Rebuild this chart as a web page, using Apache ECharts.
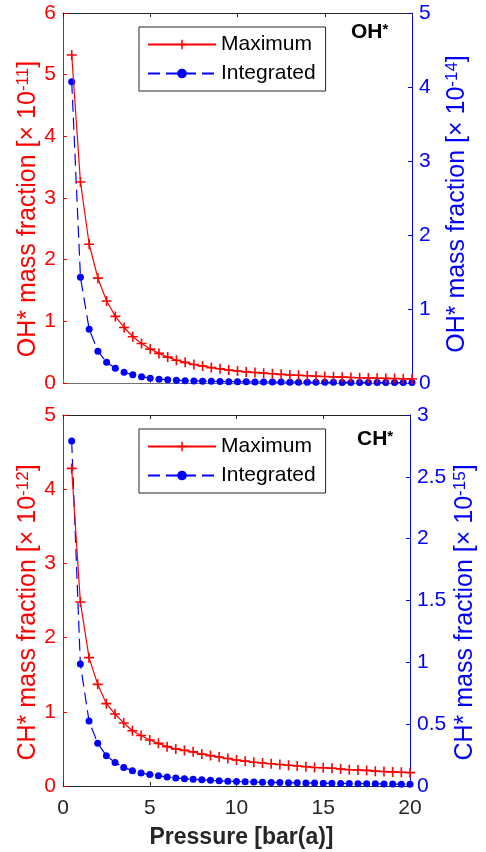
<!DOCTYPE html>
<html>
<head>
<meta charset="utf-8">
<script src="https://cdn.jsdelivr.net/npm/echarts@6/dist/echarts.min.js"></script>
<style>
  html, body { margin: 0; padding: 0; background: #fff; }
  #chart { width: 486px; height: 852px; }
</style>
</head>
<body>
<div id="chart"></div>
<script>
// pressure in bar(a)
const pressure = [0.5, 1, 1.5, 2, 2.5, 3, 3.5, 4, 4.5, 5, 5.5, 6, 6.5, 7, 7.5, 8, 8.5, 9, 9.5, 10,
  10.5, 11, 11.5, 12, 12.5, 13, 13.5, 14, 14.5, 15, 15.5, 16, 16.5, 17, 17.5, 18, 18.5, 19, 19.5, 20]

// OH* maximum (x1e-11) and integrated (x1e-14)
const ohMax = [5.32, 3.26, 2.25, 1.70, 1.33, 1.08, 0.90, 0.75, 0.64, 0.55, 0.48, 0.42, 0.37, 0.335, 0.30, 0.275, 0.25, 0.23, 0.21, 0.195,
  0.18, 0.17, 0.16, 0.15, 0.14, 0.13, 0.125, 0.118, 0.11, 0.105, 0.10, 0.095, 0.09, 0.086, 0.082, 0.078, 0.075, 0.072, 0.069, 0.066]
const ohInt = [4.07, 1.43, 0.726, 0.43, 0.28, 0.20, 0.145, 0.11, 0.085, 0.065, 0.052, 0.043, 0.037, 0.032, 0.028, 0.025, 0.022, 0.02, 0.018, 0.017,
  0.016, 0.015, 0.014, 0.013, 0.012, 0.011, 0.011, 0.01, 0.0095, 0.009, 0.0085, 0.008, 0.0078, 0.0075, 0.0072, 0.007, 0.0068, 0.0065, 0.0062, 0.006]

// CH* maximum (x1e-12) and integrated (x1e-15)
const chMax = [4.28, 2.48, 1.73, 1.37, 1.11, 0.97, 0.85, 0.745, 0.68, 0.62, 0.575, 0.53, 0.50, 0.48, 0.46, 0.43, 0.41, 0.39, 0.37, 0.35,
  0.335, 0.32, 0.31, 0.30, 0.29, 0.28, 0.27, 0.26, 0.25, 0.245, 0.24, 0.23, 0.22, 0.215, 0.21, 0.20, 0.195, 0.19, 0.185, 0.18]
const chInt = [2.79, 0.986, 0.525, 0.345, 0.245, 0.19, 0.15, 0.124, 0.105, 0.092, 0.083, 0.073, 0.065, 0.059, 0.054, 0.05, 0.046, 0.042, 0.039, 0.036,
  0.034, 0.032, 0.03, 0.029, 0.028, 0.027, 0.026, 0.025, 0.024, 0.023, 0.022, 0.021, 0.02, 0.019, 0.018, 0.018, 0.017, 0.016, 0.015, 0.014]

const FONT = 'Liberation Sans'
const RED = '#ff0000'
const BLUE = '#0000ff'
const BOX = '#262626'
const plus = 'path://M-0.8,-5 L0.8,-5 L0.8,-0.8 L5,-0.8 L5,0.8 L0.8,0.8 L0.8,5 L-0.8,5 L-0.8,0.8 L-5,0.8 L-5,-0.8 L-0.8,-0.8 Z'

function pairs(ys) {
    return pressure.map((p, i) => [p, ys[i]])
}

function xAx(grid, pos, showLabel, color) {
    return {
        type: 'value', gridIndex: grid, position: pos, min: 0, max: 20, interval: 5,
        axisLine: { show: true, onZero: false, lineStyle: { color: color, width: 1 } },
        axisTick: { show: true, inside: true, length: 4, lineStyle: { color: color } },
        axisLabel: { show: showLabel, color: BOX, fontSize: 21, fontFamily: FONT, margin: 12 },
        splitLine: { show: false }
    }
}

function yAx(grid, pos, max, interval, color, name, gap, shift) {
    return {
        type: 'value', gridIndex: grid, position: pos, min: 0, max: max, interval: interval,
        name: name, nameLocation: 'middle', nameGap: gap, nameRotate: 90, nameMoveOverlap: false,
        nameTextStyle: {
            color: color, fontSize: 25, fontFamily: FONT, padding: [0, shift, 0, 0],
            rich: { sup: { color: color, fontSize: 17, fontFamily: FONT, verticalAlign: 'top', padding: [0, 0, 10, 0] } }
        },
        axisLine: { show: true, onZero: false, lineStyle: { color: color, width: 1 } },
        axisTick: { show: true, inside: true, length: 4, lineStyle: { color: color } },
        axisLabel: { color: color, fontSize: 21, fontFamily: FONT, margin: 7 },
        splitLine: { show: false }
    }
}

function maxSeries(x, y, data) {
    return {
        name: 'Maximum', type: 'line', xAxisIndex: x, yAxisIndex: y, data: pairs(data),
        symbol: plus, symbolSize: 10, showSymbol: true,
        lineStyle: { color: RED, width: 1.2 }, itemStyle: { color: RED }, z: 3
    }
}

function intSeries(x, y, data) {
    return {
        name: 'Integrated', type: 'line', xAxisIndex: x, yAxisIndex: y, data: pairs(data),
        symbol: 'circle', symbolSize: 7, showSymbol: true,
        lineStyle: { color: BLUE, width: 1.2, type: [12, 6] }, itemStyle: { color: BLUE }, z: 2
    }
}

function legendAt(top) {
    return {
        orient: 'vertical', left: 139, top: top,
        data: ['Maximum', 'Integrated'],
        backgroundColor: '#fff', borderColor: BOX, borderWidth: 1, borderRadius: 0,
        padding: [7, 10, 7, 8], itemGap: 8, itemWidth: 68, itemHeight: 12,
        textStyle: { color: '#000', fontSize: 21, fontFamily: FONT }
    }
}

let chart = echarts.init(document.querySelector('#chart'))
let option = {
    backgroundColor: '#fff',
    animation: false,
    grid: [
        { left: 63, top: 13, width: 349, height: 370 },
        { left: 63, top: 415, width: 349, height: 371 }
    ],
    legend: [legendAt(27), legendAt(429)],
    xAxis: [
        xAx(0, 'bottom', false, '#707070'),
        xAx(0, 'top', false, BOX),
        Object.assign(xAx(1, 'bottom', true, BOX), {
            name: 'Pressure [bar(a)]', nameLocation: 'middle', nameGap: 40, nameMoveOverlap: false,
            nameTextStyle: { color: BOX, fontSize: 23, fontWeight: 'bold', fontFamily: FONT, padding: [0, 0, 0, 10] }
        }),
        xAx(1, 'top', false, BOX)
    ],
    yAxis: [
        yAx(0, 'left', 6, 1, RED, 'OH* mass fraction [× 10{sup|-11}]', 21, 22),
        yAx(0, 'right', 5, 1, BLUE, 'OH* mass fraction [× 10{sup|-14}]', 32, 12),
        yAx(1, 'left', 5, 1, RED, 'CH* mass fraction [× 10{sup|-12}]', 21, 24),
        yAx(1, 'right', 3, 0.5, BLUE, 'CH* mass fraction [× 10{sup|-15}]', 42, 24)
    ],
    graphic: [
        {
            type: 'text', left: 351, top: 22,
            style: { text: '{b|OH}{s|*}', rich: { b: { fontSize: 21, fontWeight: 'bold', fontFamily: FONT, fill: '#000' },
                s: { fontSize: 15, fontWeight: 'bold', fontFamily: FONT, fill: '#000', verticalAlign: 'top' } } }
        },
        {
            type: 'text', left: 357, top: 429,
            style: { text: '{b|CH}{s|*}', rich: { b: { fontSize: 21, fontWeight: 'bold', fontFamily: FONT, fill: '#000' },
                s: { fontSize: 15, fontWeight: 'bold', fontFamily: FONT, fill: '#000', verticalAlign: 'top' } } }
        }
    ],
    series: [
        maxSeries(0, 0, ohMax),
        intSeries(0, 1, ohInt),
        maxSeries(2, 2, chMax),
        intSeries(2, 3, chInt)
    ]
}
chart.setOption(option)
</script>
</body>
</html>
